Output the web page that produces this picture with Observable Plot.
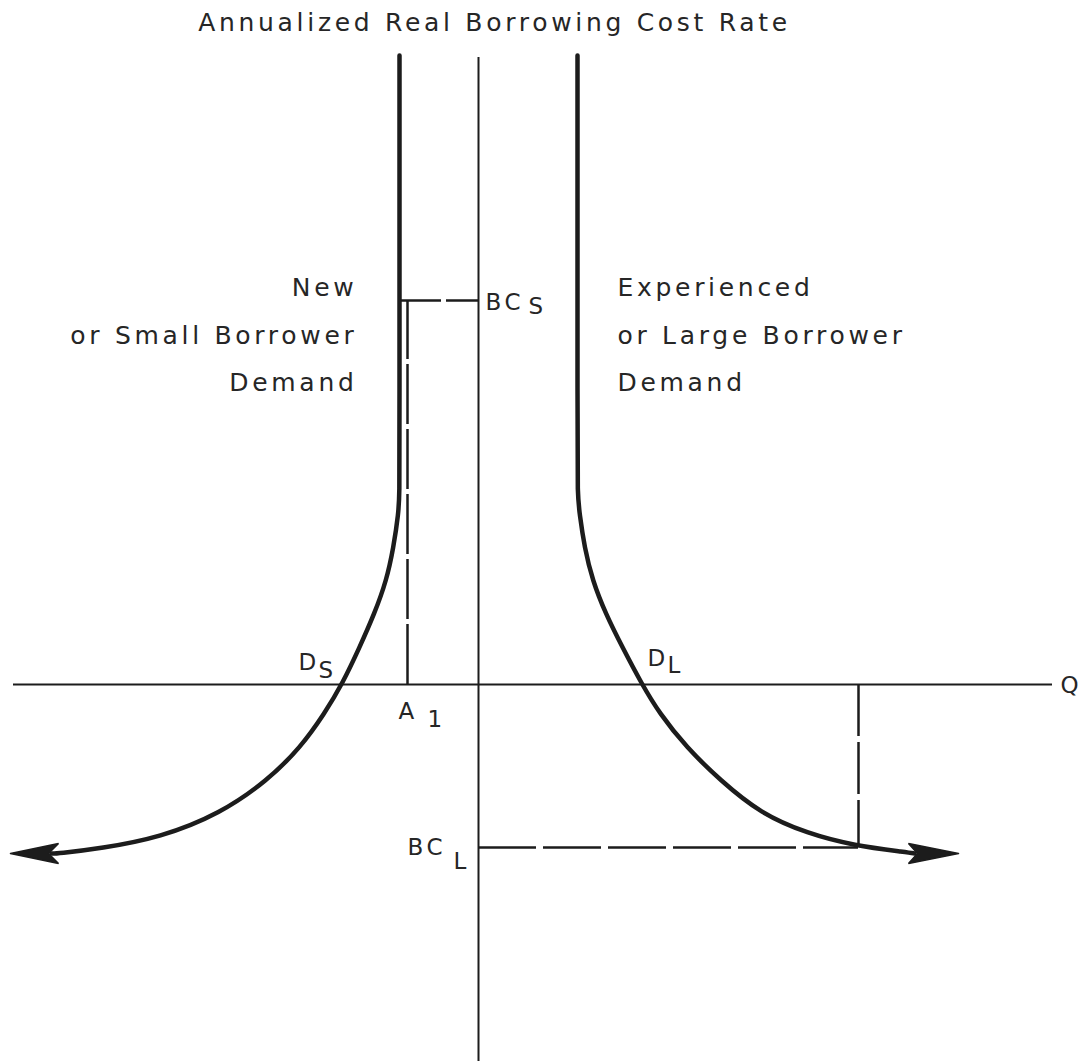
<!DOCTYPE html>
<html>
<head>
<meta charset="utf-8">
<script src="https://cdn.jsdelivr.net/npm/d3@7"></script>
<script src="https://cdn.jsdelivr.net/npm/@observablehq/plot@0.6"></script>
<style>
  html, body { margin: 0; padding: 0; background: #ffffff; }
  #chart svg { display: block; }
  #chart svg text { letter-spacing: 3.7px; }
</style>
</head>
<body>
<div id="chart"></div>
<script>
// ---- Data (diagram units: origin where the two axes cross) ----
const titleText = "Annualized Real Borrowing Cost Rate";

// Small / new borrower demand curve D_S
const smallCurveX = [-0.79, -0.79, -0.79, -0.80, -0.85, -0.92, -1.04, -1.19, -1.36, -1.54, -1.78, -2.11, -2.58, -3.18, -3.78, -4.21, -4.27];
const smallCurveY = [6.29, 2.40, 1.91, 1.71, 1.37, 1.04, 0.71, 0.37, 0.01, -0.29, -0.63, -0.96, -1.29, -1.53, -1.64, -1.69, -1.69];

// Large / experienced borrower demand curve D_L
const largeCurveX = [0.99, 0.99, 0.99, 1.01, 1.06, 1.14, 1.27, 1.44, 1.63, 1.81, 2.08, 2.42, 2.82, 3.29, 3.75, 4.30, 4.36];
const largeCurveY = [6.29, 2.40, 1.91, 1.71, 1.37, 1.04, 0.71, 0.37, 0.01, -0.29, -0.63, -0.96, -1.29, -1.49, -1.61, -1.68, -1.69];

// Arrowheads (tip, barb, notch, barb, tip)
const leftArrowX = [-4.68, -4.20, -4.30, -4.20, -4.68];
const leftArrowY = [-1.69, -1.59, -1.69, -1.79, -1.69];
const rightArrowX = [4.80, 4.30, 4.39, 4.30, 4.80];
const rightArrowY = [-1.69, -1.59, -1.69, -1.79, -1.69];

// Axes extents
const qAxisRange = [-4.65, 5.74];
const costAxisRange = [6.27, -3.77];

// Borrowing cost levels and quantities
const bcLevels = [3.84, -1.63];      // BC_S, BC_L
const quantities = [-0.71, 3.80];    // A_1, quantity on D_L at BC_L
const curveEdgeAtBCs = -0.79;

// Text labels
const rightLabels = ["New", "or Small Borrower", "Demand"];
const rightLabelX = [-1.21, -1.21, -1.21];
const rightLabelY = [3.97, 3.49, 3.02];
const leftLabels = ["Experienced", "or Large Borrower", "Demand"];
const leftLabelX = [1.39, 1.39, 1.39];
const leftLabelY = [3.97, 3.49, 3.02];

const symbolMain = ["BC", "D", "D", "A", "BC"];
const symbolMainX = [0.07, -1.80, 1.69, -0.80, -0.71];
const symbolMainY = [3.82, 0.22, 0.26, -0.27, -1.63];
const symbolSub = ["S", "S", "L", "1", "L"];
const symbolSubX = [0.50, -1.60, 1.89, -0.51, -0.25];
const symbolSubY = [3.78, 0.14, 0.19, -0.35, -1.77];
const qLabel = ["Q"];

// ---- Build tables ----
const zip = (xs, ys) => xs.map((x, i) => ({x, y: ys[i]}));
const smallCurve = zip(smallCurveX, smallCurveY);
const largeCurve = zip(largeCurveX, largeCurveY);
const leftArrow = zip(leftArrowX, leftArrowY);
const rightArrow = zip(rightArrowX, rightArrowY);
const rightLab = rightLabels.map((t, i) => ({t, x: rightLabelX[i], y: rightLabelY[i]}));
const leftLab = leftLabels.map((t, i) => ({t, x: leftLabelX[i], y: leftLabelY[i]}));
const mainSym = symbolMain.map((t, i) => ({t, x: symbolMainX[i], y: symbolMainY[i]}));
const subSym = symbolSub.map((t, i) => ({t, x: symbolSubX[i], y: symbolSubY[i]}));

const ink = "#1c1c1c";
const textInk = "#262626";
const font = "DejaVu Sans";
const fs = 25;
const fsSym = 23;

const chart = Plot.plot({
  width: 1087,
  height: 1061,
  margin: 0,
  x: {domain: [-4.78, 6.09], axis: null},
  y: {domain: [-3.77, 6.84], axis: null},
  style: {fontFamily: font, background: "#ffffff"},
  marks: [
    // axes
    Plot.ruleY([0], {x1: qAxisRange[0], x2: qAxisRange[1], stroke: ink, strokeWidth: 2}),
    Plot.ruleX([0], {y1: costAxisRange[0], y2: costAxisRange[1], stroke: ink, strokeWidth: 2}),
    // dashed guides
    Plot.ruleY([bcLevels[0]], {x1: curveEdgeAtBCs, x2: 0, stroke: ink, strokeWidth: 2.5, strokeDasharray: "42,5"}),
    Plot.ruleX([quantities[0]], {y1: 0, y2: bcLevels[0], stroke: ink, strokeWidth: 2.5, strokeDasharray: "60,5"}),
    Plot.ruleY([bcLevels[1]], {x1: 0, x2: quantities[1], stroke: ink, strokeWidth: 2.5, strokeDasharray: "58,7"}),
    Plot.ruleX([quantities[1]], {y1: 0, y2: bcLevels[1], stroke: ink, strokeWidth: 2.5, strokeDasharray: "52,6"}),
    // demand curves
    Plot.line(smallCurve, {x: "x", y: "y", curve: "basis", stroke: ink, strokeWidth: 4.5}),
    Plot.line(largeCurve, {x: "x", y: "y", curve: "basis", stroke: ink, strokeWidth: 4.5}),
    // arrowheads
    Plot.line(leftArrow, {x: "x", y: "y", fill: ink, stroke: ink, strokeWidth: 1.5, strokeLinejoin: "miter"}),
    Plot.line(rightArrow, {x: "x", y: "y", fill: ink, stroke: ink, strokeWidth: 1.5, strokeLinejoin: "miter"}),
    // title
    Plot.text([titleText], {x: 0.16, y: 6.62, text: d => d, fontSize: fs, fill: textInk, textAnchor: "middle", lineAnchor: "middle"}),
    // curve descriptions
    Plot.text(rightLab, {x: "x", y: "y", text: "t", textAnchor: "end", lineAnchor: "middle", fontSize: fs, fill: textInk}),
    Plot.text(leftLab, {x: "x", y: "y", text: "t", textAnchor: "start", lineAnchor: "middle", fontSize: fs, fill: textInk}),
    // symbols with subscripts
    Plot.text(mainSym, {x: "x", y: "y", text: "t", textAnchor: "start", lineAnchor: "middle", fontSize: fsSym, fill: textInk}),
    Plot.text(subSym, {x: "x", y: "y", text: "t", textAnchor: "start", lineAnchor: "middle", fontSize: fsSym, fill: textInk}),
    Plot.text(qLabel, {x: 5.82, y: -0.01, text: d => d, textAnchor: "start", lineAnchor: "middle", fontSize: fsSym, fill: textInk})
  ]
});
// single-letter symbols need no tracking
d3.select(chart).selectAll("text")
  .filter(function() { return this.textContent.length === 1; })
  .style("letter-spacing", "0px");
document.getElementById("chart").appendChild(chart);
</script>
</body>
</html>
